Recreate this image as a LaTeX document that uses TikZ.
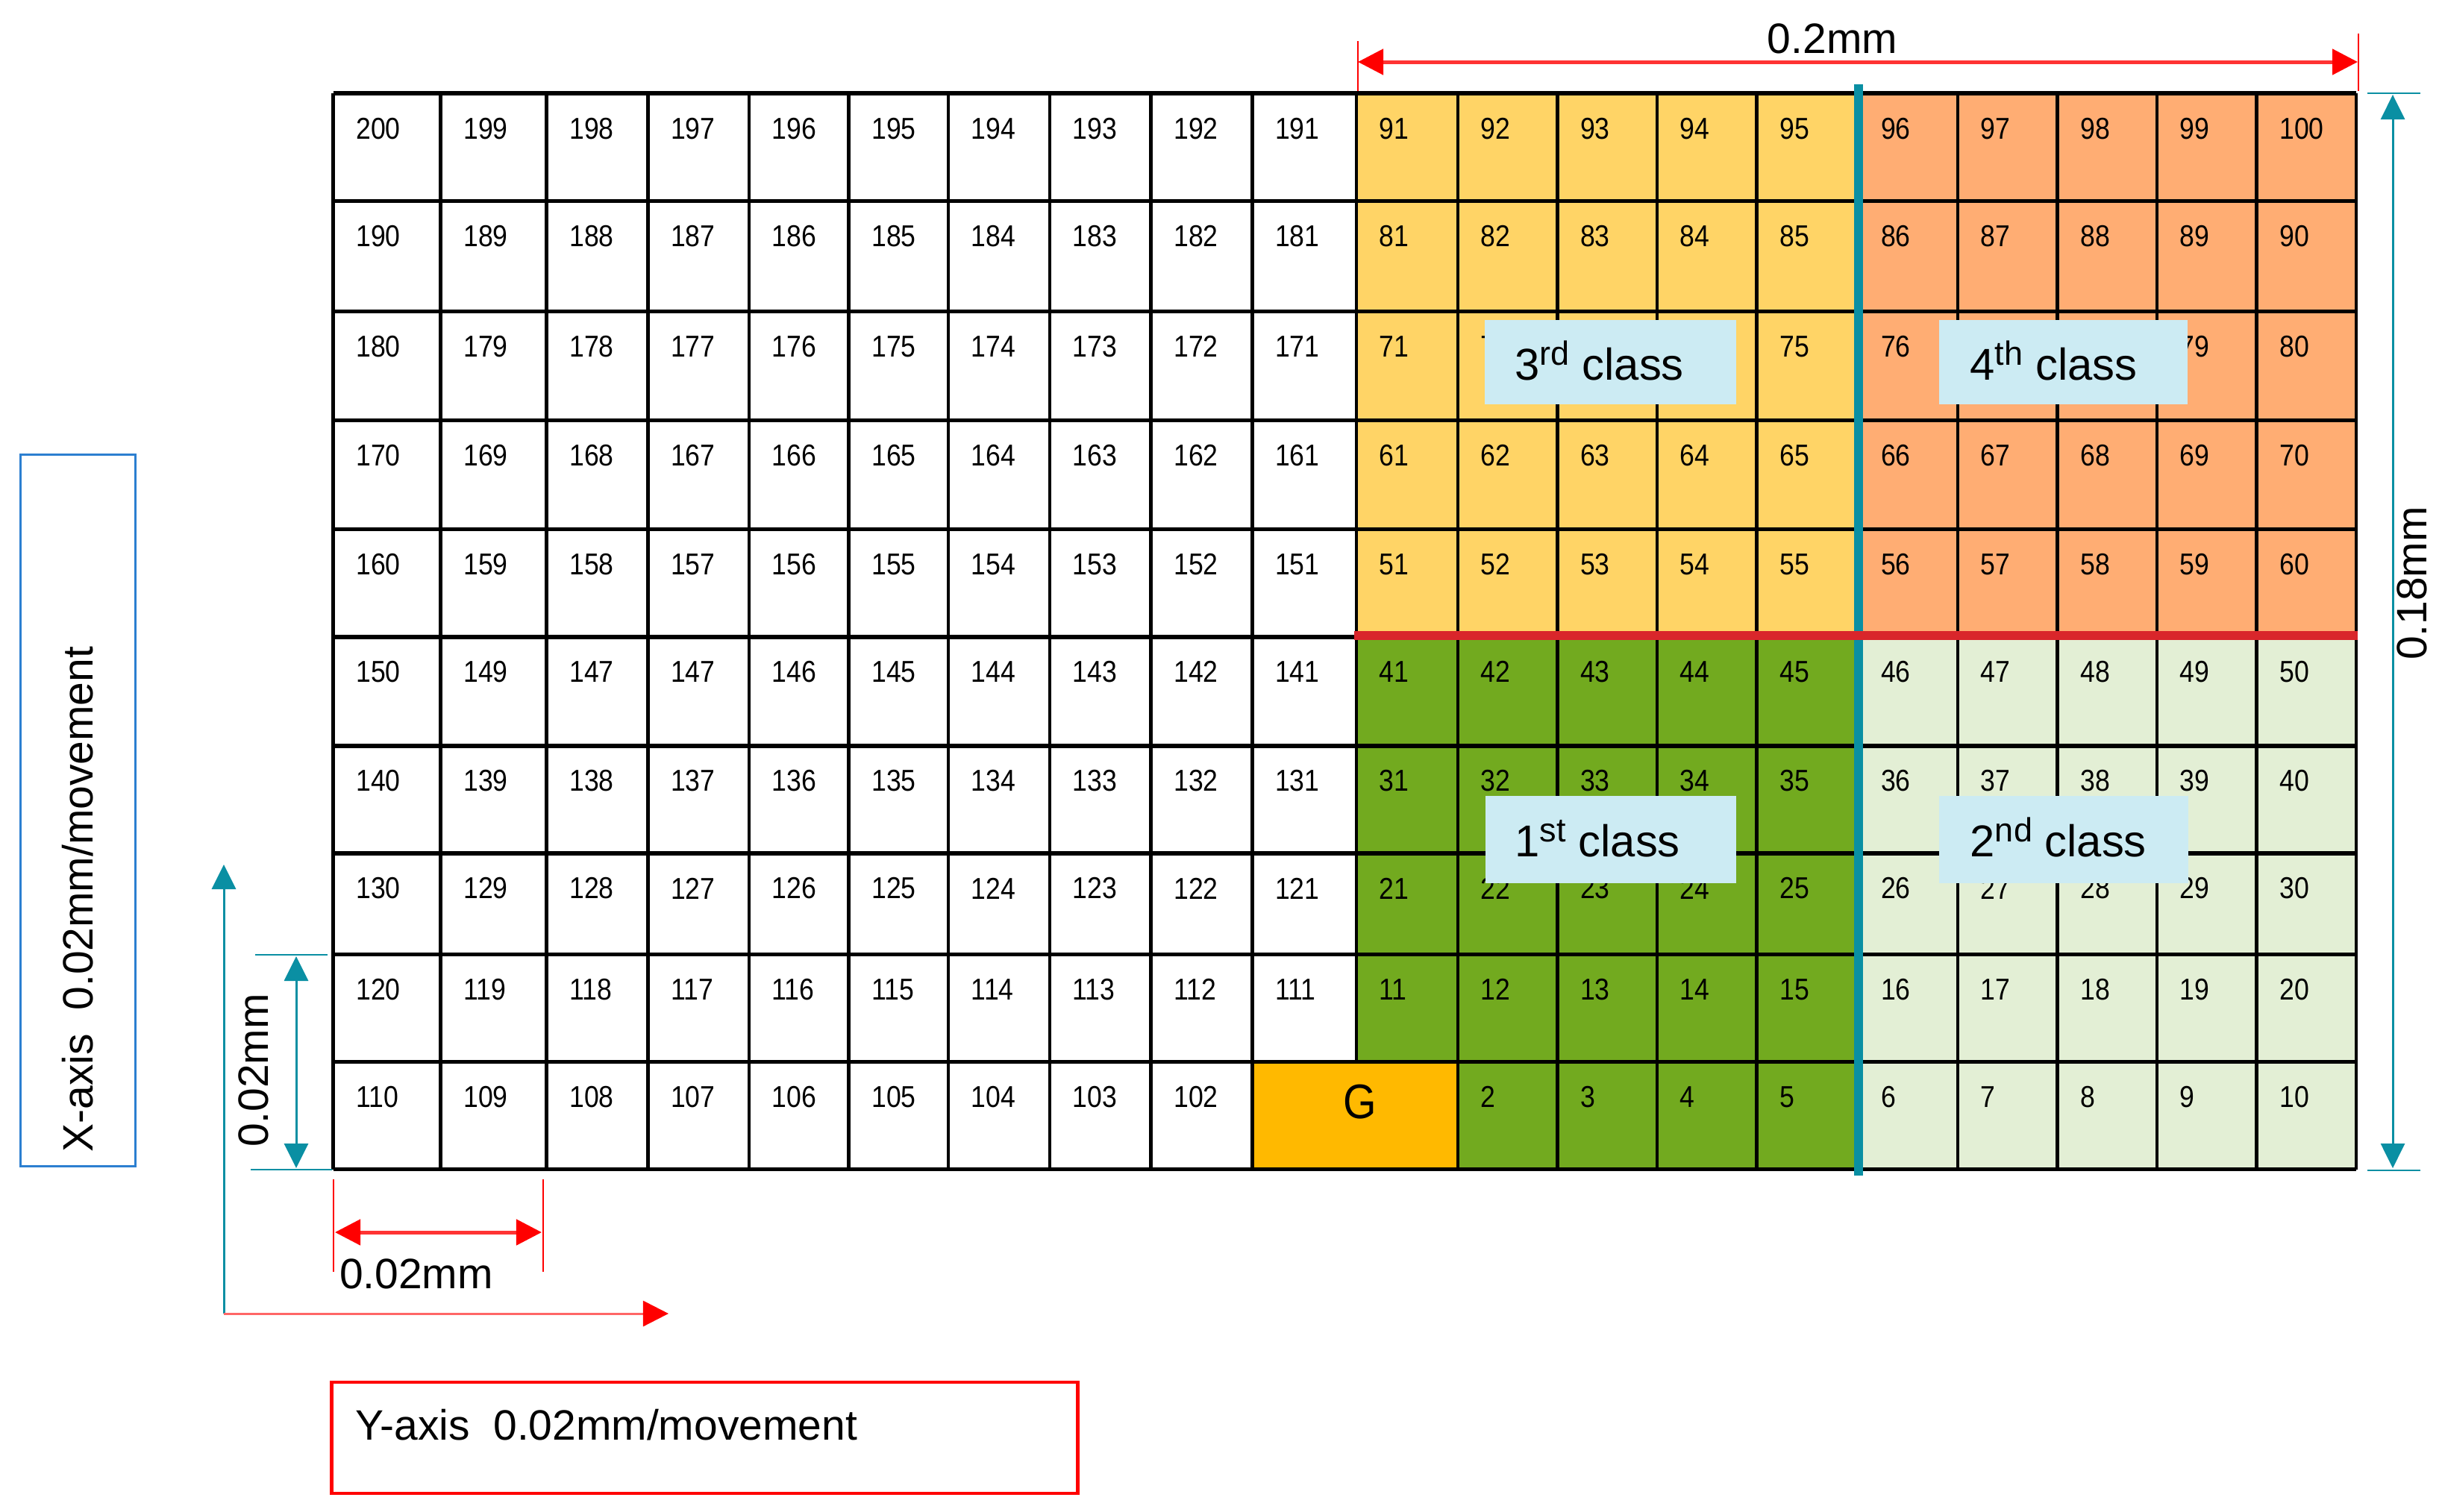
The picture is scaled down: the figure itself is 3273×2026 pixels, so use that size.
\documentclass[tikz,border=0pt]{standalone}
\usepackage{fontspec}
\setmainfont{Liberation Sans}
\newfontfamily\cellfont[FakeStretch=0.88]{Liberation Sans}
\usetikzlibrary{arrows.meta}
\definecolor{cyel}{HTML}{FFD466}
\definecolor{cora}{HTML}{FFAD73}
\definecolor{cdg}{HTML}{72AA1F}
\definecolor{clg}{HTML}{E3EFD5}
\definecolor{cgold}{HTML}{FFB900}
\definecolor{cbox}{HTML}{CCEBF3}
\definecolor{cteal}{HTML}{0A8FA3}
\definecolor{cred}{HTML}{D9262B}
\definecolor{xblue}{HTML}{2C7FD0}
\newcommand\supx[1]{\raisebox{0.32em}{\fontsize{12.8}{13}\selectfont #1}}
\tikzset{
  cellnum/.style={font=\cellfont\fontsize{11.5}{13}\selectfont, anchor=west, inner sep=0pt},
  hgrid/.style={line width=0.055cm, black},
  vgrid/.style={line width=0.045cm, black},
  classbox/.style={fill=cbox, minimum height=1.13cm, inner sep=0pt},
  classtxt/.style={font=\fontsize{17}{20}\selectfont, anchor=base west, inner sep=0pt},
  dimlabel/.style={font=\fontsize{16.2}{19}\selectfont, inner sep=0pt},
  reddim/.style={draw=red!80!white, line width=0.05cm, >={Triangle[length=0.34cm,width=0.34cm,red]}},
  redext/.style={draw=red, line width=0.02cm},
  tealdim/.style={draw=cteal, line width=0.03cm, >={Triangle[length=0.33cm,width=0.32cm]}},
  tealext/.style={draw=cteal, line width=0.02cm}
}
\begin{document}
\begin{tikzpicture}[x=0.01cm,y=-0.01cm]
\useasboundingbox (0,0) rectangle (3273,2026);
\def\XB{{446.7,590.7,732.7,868.4,1004.1,1137.7,1271.2,1406.9,1542.6,1678.3,1818.1,1953.8,2087.4,2221.0,2354.5,2490.3,2623.9,2757.5,2891.1,3024.6,3158.2}}
\def\YB{{125.2,269.3,417.5,563.6,709.7,853.8,999.9,1143.9,1279.6,1423.6,1567.6}}
% coloured regions
\fill[cyel] (1818.1,125.2) rectangle (2490.3,853.8);
\fill[cora] (2490.3,125.2) rectangle (3158.2,853.8);
\fill[cdg] (1818.1,853.8) rectangle (2490.3,1567.6);
\fill[clg] (2490.3,853.8) rectangle (3158.2,1567.6);
\fill[cgold] (1678.3,1423.6) rectangle (1953.8,1567.6);
% grid lines
\foreach \y in {125.2,269.3,417.5,563.6,709.7,853.8,999.9,1143.9,1279.6,1423.6,1567.6}
  \draw[hgrid] (446.7,\y) -- (3158.2,\y);
\foreach \x in {446.7,590.7,732.7,868.4,1004.1,1137.7,1271.2,1406.9,1542.6,1678.3,1953.8,2087.4,2221.0,2354.5,2490.3,2623.9,2757.5,2891.1,3024.6,3158.2}
  \draw[vgrid] (\x,125.2) -- (\x,1567.6);
\draw[vgrid] (1818.1,125.2) -- (1818.1,1423.6);
% cell numbers
\foreach \r in {0,...,9}{
  \foreach \c in {0,...,19}{
    \pgfmathtruncatemacro\num{(\c<10) ? (200-10*\r-\c) : ((9-\r)*10+\c-9)}
    \pgfmathsetmacro\xa{\XB[\c]}
    \pgfmathsetmacro\ya{\YB[\r]}
    \pgfmathtruncatemacro\skipit{((\r==9)&&((\c==9)||(\c==10))) ? 1 : 0}
    \ifnum\r=5 \ifnum\c=2 \def\num{147}\fi\fi
    \ifnum\skipit=0
      \node[cellnum] (c-\r-\c) at (\xa+30,\ya+47) {\num};
    \fi
  }
}
\node[font=\cellfont\fontsize{18.5}{20}\selectfont, inner sep=0pt] (g) at (1823,1477) {G};
% class labels
\node[classbox, minimum width=3.37cm] (b3) at (2158.5,485.5) {};
\node[classtxt] (t3) at (2030,509) {3\supx{rd} class};
\node[classbox, minimum width=3.33cm] (b4) at (2765.5,485.5) {};
\node[classtxt] (t4) at (2640,509) {4\supx{th} class};
\node[classbox, minimum width=3.36cm, minimum height=1.17cm] (b1) at (2159,1125.5) {};
\node[classtxt] (t1) at (2030,1148) {1\supx{st} class};
\node[classbox, minimum width=3.34cm, minimum height=1.17cm] (b2) at (2766,1125.5) {};
\node[classtxt] (t2) at (2640,1148) {2\supx{nd} class};
% class dividers
\coordinate (vtop) at (2491,113);
\coordinate (vbot) at (2491,1576);
\draw[cteal, line width=0.12cm] (vtop) -- (vbot);
\coordinate (hleft) at (1815,852);
\coordinate (hright) at (3160,852);
\draw[cred, line width=0.12cm] (hleft) -- (hright);
% top dimension 0.2mm
\coordinate (tL) at (1820,83);
\coordinate (tR) at (3160,83);
\coordinate (tLa) at (1820,55);
\coordinate (tLb) at (1820,122);
\coordinate (tRa) at (3161,45);
\coordinate (tRb) at (3161,122);
\draw[redext] (tLa) -- (tLb);
\draw[redext] (tRa) -- (tRb);
\draw[reddim,<->] (tL) -- (tR);
\node[dimlabel] (lab02) at (2456,52) {0.2mm};
% right dimension 0.18mm
\coordinate (rT) at (3207,127);
\coordinate (rB) at (3207,1566);
\coordinate (rTa) at (3173,125);
\coordinate (rTb) at (3244,125);
\coordinate (rBa) at (3173,1569);
\coordinate (rBb) at (3244,1569);
\draw[tealext] (rTa) -- (rTb);
\draw[tealext] (rBa) -- (rBb);
\draw[tealdim,<->] (rT) -- (rB);
\node[dimlabel, rotate=90] (lab018) at (3233,782) {0.18mm};
% small vertical dimension 0.02mm
\coordinate (sT) at (397,1282);
\coordinate (sB) at (397,1566);
\coordinate (sTa) at (342,1280);
\coordinate (sTb) at (439,1280);
\coordinate (sBa) at (336,1568);
\coordinate (sBb) at (445,1568);
\draw[tealext] (sTa) -- (sTb);
\draw[tealext] (sBa) -- (sBb);
\draw[tealdim,<->] (sT) -- (sB);
\node[dimlabel, rotate=90] (lab002v) at (340,1435) {0.02mm};
% small horizontal dimension 0.02mm
\coordinate (hL) at (449,1652);
\coordinate (hR) at (726,1652);
\coordinate (hLa) at (447,1581);
\coordinate (hLb) at (447,1705);
\coordinate (hRa) at (728,1581);
\coordinate (hRb) at (728,1705);
\draw[redext] (hLa) -- (hLb);
\draw[redext] (hRa) -- (hRb);
\draw[reddim,<->] (hL) -- (hR);
\node[dimlabel] (lab002h) at (558,1708) {0.02mm};
% axes
\coordinate (corner) at (300,1761);
\coordinate (xend) at (300,1159);
\coordinate (yend) at (896,1761);
\draw[tealdim,->] (corner) -- (xend);
\draw[reddim, draw=red!60!white, line width=0.03cm, ->] (corner) -- (yend);
% axis boxes
\node[draw=xblue, line width=0.03cm, minimum width=1.53cm, minimum height=9.53cm, inner sep=0pt] (xbox) at (104.5,1086.5) {};
\node[dimlabel, rotate=90, anchor=base west] (xlab) at (124,1545) {X-axis\ \ 0.02mm/movement};
\node[draw=red, line width=0.045cm, minimum width=9.99cm, minimum height=1.49cm, inner sep=0pt] (ybox) at (944.5,1927.5) {};
\node[dimlabel, anchor=base west] (ylab) at (476,1930) {Y-axis\ \ 0.02mm/movement};
\end{tikzpicture}
\end{document}
